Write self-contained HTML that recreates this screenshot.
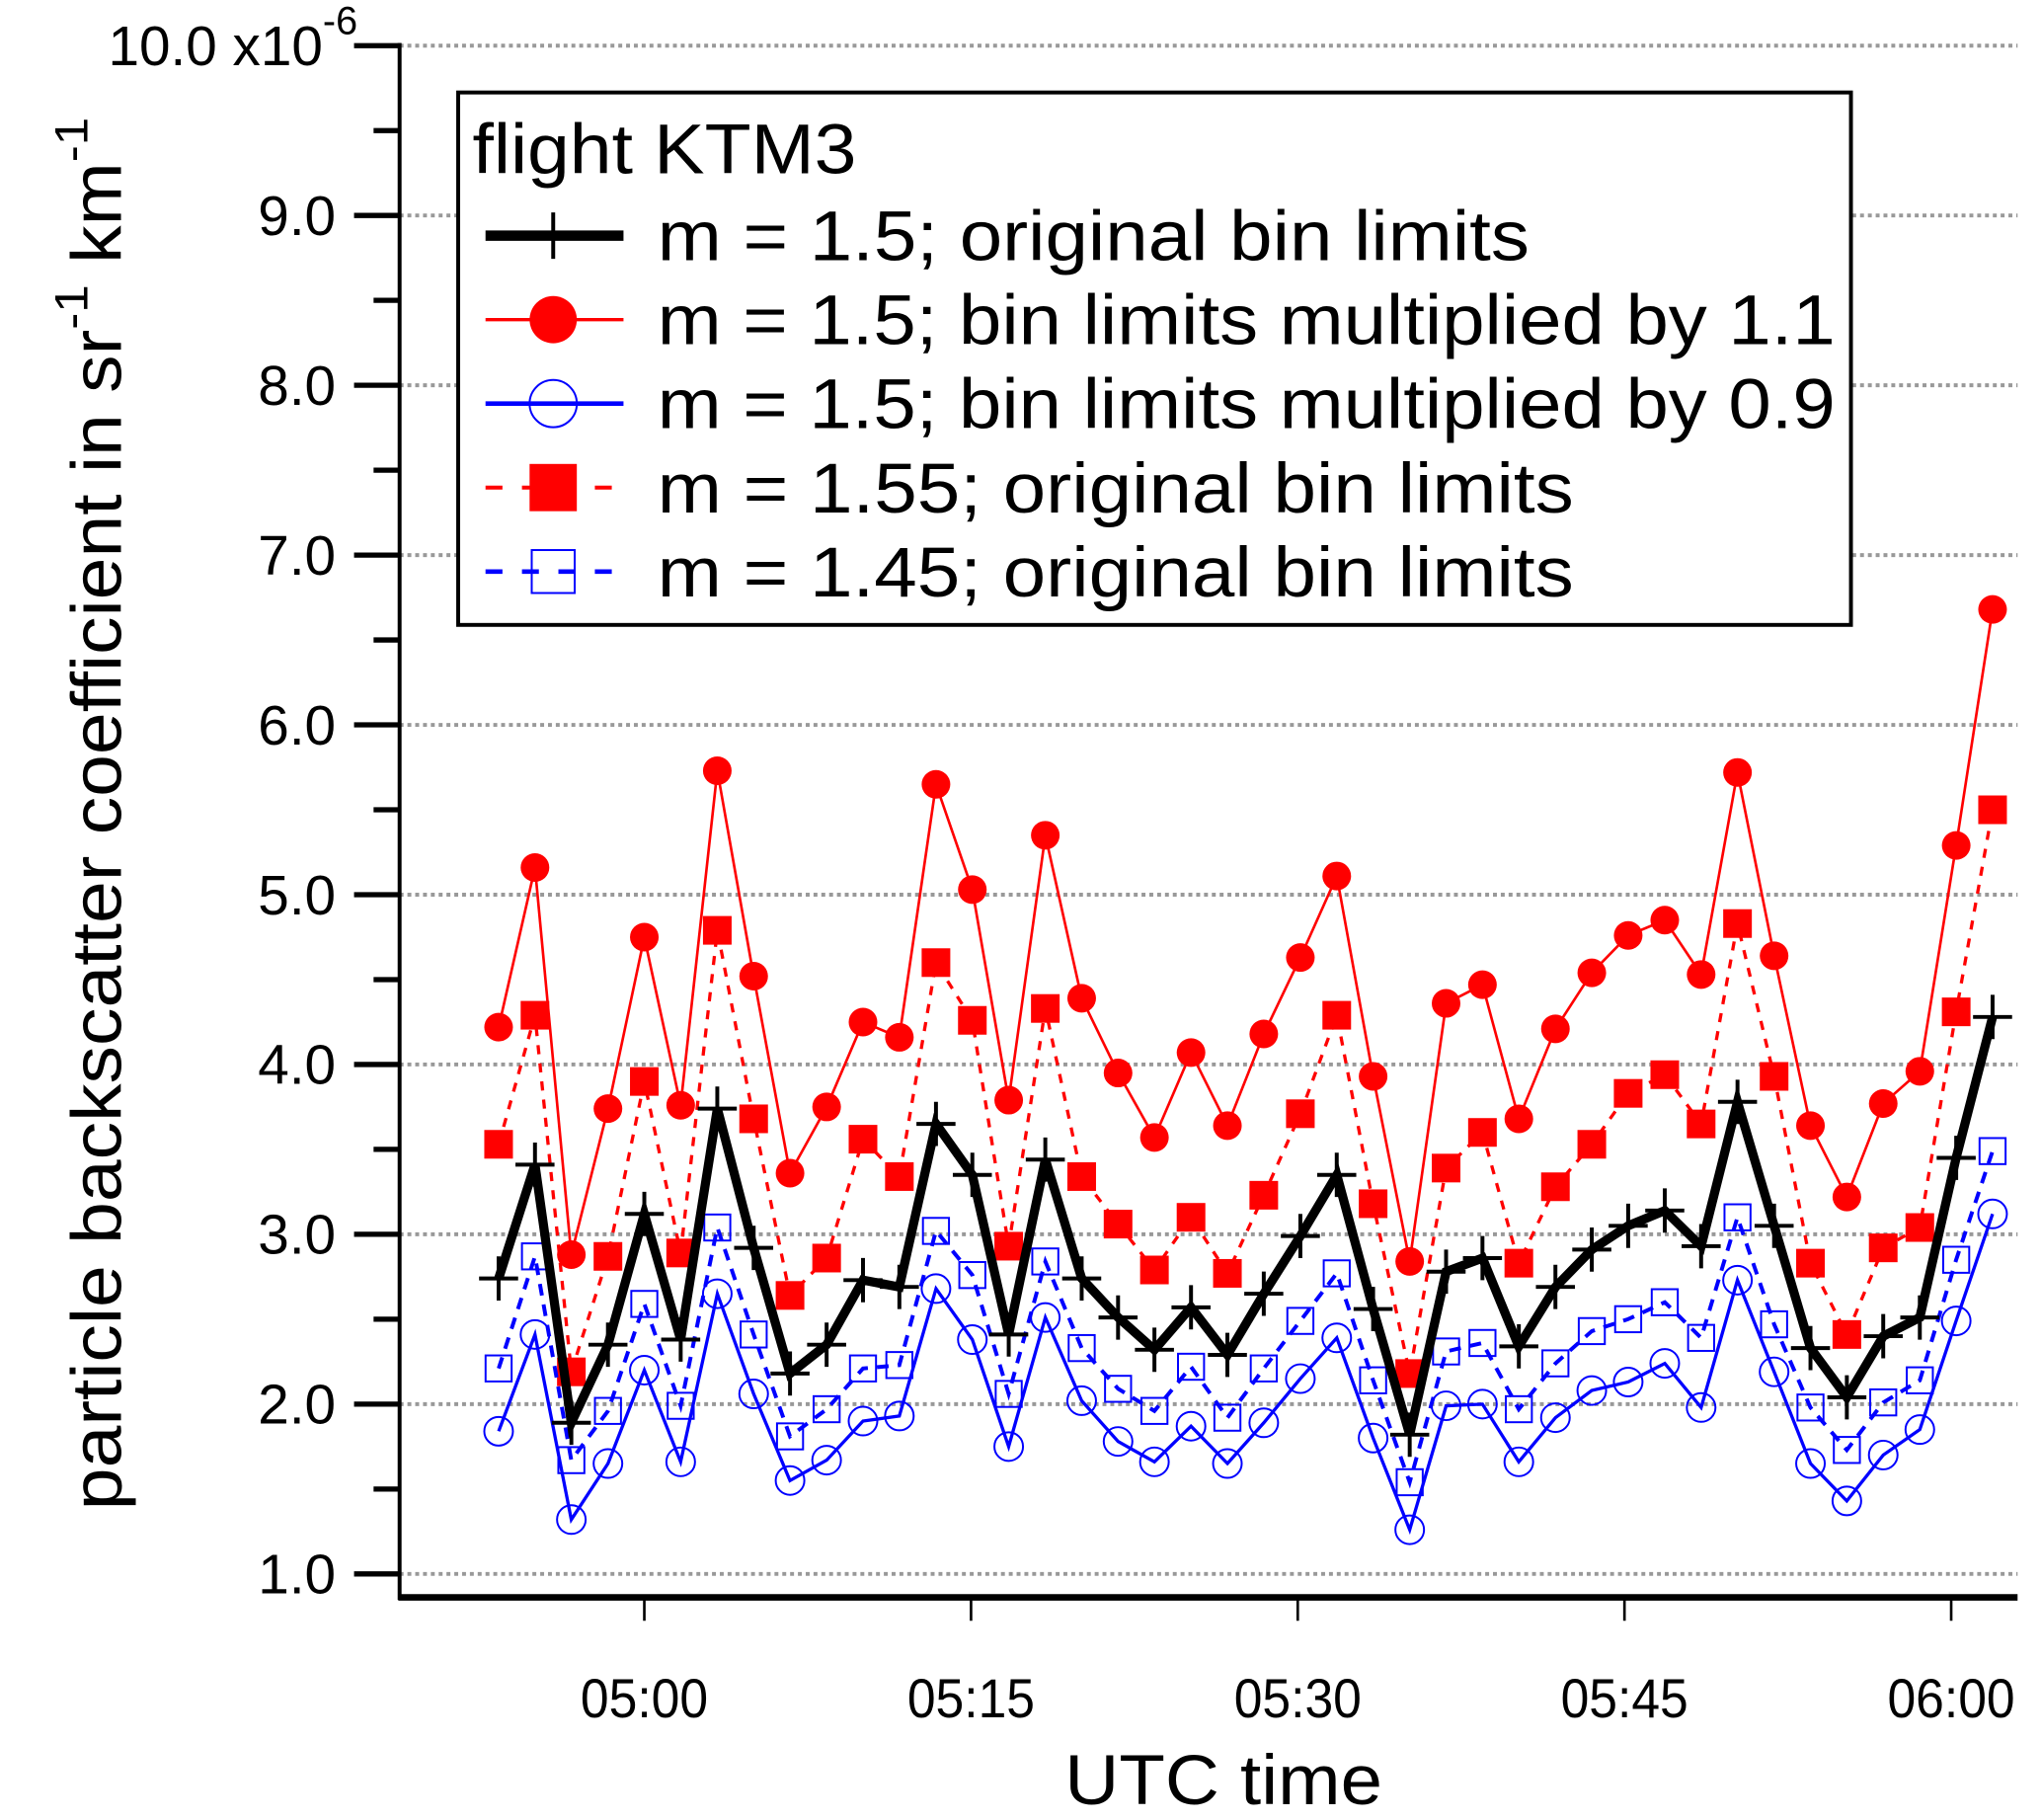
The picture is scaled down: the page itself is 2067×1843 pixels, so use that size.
<!DOCTYPE html>
<html><head><meta charset="utf-8"><style>html,body{margin:0;padding:0;background:#fff}svg{display:block}</style></head>
<body>
<svg id="chart" width="2067" height="1843" viewBox="0 0 1568 1398" xmlns="http://www.w3.org/2000/svg" font-family="Liberation Sans, Arial, sans-serif"></svg>
<script>
// minutes relative to 05:00 UTC
const times = [-6.69,-5.02,-3.35,-1.67,0.00,1.67,3.35,5.02,6.69,8.37,10.04,11.71,13.39,15.06,16.73,18.41,20.08,21.75,23.42,25.10,26.77,28.44,30.12,31.79,33.46,35.14,36.81,38.48,40.15,41.83,43.50,45.17,46.85,48.52,50.19,51.87,53.54,55.21,56.88,58.56,60.23,61.90];
const seriesOrig = [2.74,3.41,1.89,2.35,3.12,2.38,3.74,2.92,2.18,2.35,2.73,2.69,3.65,3.35,2.41,3.44,2.74,2.51,2.32,2.57,2.29,2.65,2.99,3.35,2.56,1.82,2.78,2.86,2.34,2.69,2.91,3.05,3.14,2.93,3.78,3.05,2.33,2.04,2.40,2.51,3.45,4.28];
const seriesMul11 = [4.22,5.16,2.88,3.74,4.75,3.76,5.73,4.52,3.36,3.75,4.25,4.16,5.65,5.03,3.79,5.35,4.39,3.95,3.57,4.07,3.64,4.18,4.63,5.11,3.93,2.84,4.36,4.47,3.68,4.21,4.54,4.76,4.85,4.53,5.72,4.64,3.64,3.22,3.77,3.96,5.29,6.68];
const seriesMul09 = [1.84,2.41,1.32,1.65,2.20,1.66,2.65,2.06,1.55,1.67,1.90,1.93,2.68,2.38,1.75,2.51,2.02,1.78,1.66,1.87,1.65,1.89,2.15,2.39,1.80,1.26,1.99,2.00,1.66,1.92,2.08,2.13,2.24,1.98,2.73,2.19,1.65,1.43,1.70,1.85,2.49,3.12];
const seriesM155 = [3.53,4.29,2.19,2.87,3.90,2.89,4.79,3.68,2.64,2.86,3.56,3.34,4.60,4.26,2.93,4.33,3.34,3.06,2.79,3.10,2.77,3.23,3.71,4.29,3.18,2.18,3.39,3.60,2.83,3.28,3.53,3.83,3.94,3.65,4.83,3.93,2.83,2.41,2.92,3.04,4.31,5.50];
const seriesM145 = [2.21,2.87,1.67,1.96,2.59,1.99,3.04,2.41,1.81,1.97,2.21,2.23,3.02,2.76,2.06,2.84,2.33,2.09,1.96,2.22,1.92,2.21,2.49,2.77,2.14,1.54,2.31,2.36,1.97,2.24,2.43,2.50,2.60,2.39,3.10,2.47,1.98,1.73,2.01,2.14,2.85,3.49];
const yTicks = [1,2,3,4,5,6,7,8,9,10];
const yTickLabels = ["1.0","2.0","3.0","4.0","5.0","6.0","7.0","8.0","9.0","10.0 x10"];
const xTicks = [0,15,30,45,60];
const xTickLabels = ["05:00","05:15","05:30","05:45","06:00"];

const svg = document.getElementById('chart');
const NS = 'http://www.w3.org/2000/svg';
const X0 = 307, X1 = 1550, YB = 1227;
const xs = m => 495 + m * (251/15);
const ys = v => 1209 - (v - 1) * 130.44;
function mk(tag, attrs, parent) {
  const e = document.createElementNS(NS, tag);
  for (const k in attrs) e.setAttribute(k, attrs[k]);
  (parent || svg).appendChild(e);
  return e;
}

yTicks.forEach(v => {
  const g = mk('line', {x1: X0, x2: X1, y1: ys(v), y2: ys(v), stroke: '#999', 'stroke-width': 3, 'stroke-dasharray': '3,3'});
  
  
});
yTicks.forEach((v, i) => {
  const t = mk('line', {x1: 272, x2: X0, y1: ys(v), y2: ys(v), stroke: '#000', 'stroke-width': 4});
  
  
  if (v < 10) {
    const m = mk('line', {x1: 287, x2: X0, y1: ys(v + 0.5), y2: ys(v + 0.5), stroke: '#000', 'stroke-width': 4});
    
    
  }
  const lb = mk('text', {x: v === 10 ? 248 : 258, y: ys(v) + 15, 'font-size': 43, 'text-anchor': 'end'});
  lb.textContent = yTickLabels[i];
  
  
});
const sup = mk('text', {x: 248, y: 26, 'font-size': 30, 'text-anchor': 'start'});
sup.textContent = '-6';


const ya = mk('line', {x1: X0, x2: X0, y1: 33, y2: YB + 2, stroke: '#000', 'stroke-width': 3});


const xa = mk('line', {x1: X0 - 1, x2: X1, y1: YB, y2: YB, stroke: '#000', 'stroke-width': 5});


xTicks.forEach((m, i) => {
  const t = mk('line', {x1: xs(m), x2: xs(m), y1: YB, y2: 1245, stroke: '#000', 'stroke-width': 2});
  
  
  const lb = mk('text', {x: xs(m), y: 1319, 'font-size': 42, 'text-anchor': 'middle', textLength: 98, lengthAdjust: 'spacingAndGlyphs'});
  lb.textContent = xTickLabels[i];
  
  
});
const xt = mk('text', {x: 940, y: 1386, 'font-size': 54, 'text-anchor': 'middle', textLength: 244, lengthAdjust: 'spacingAndGlyphs'});
xt.textContent = 'UTC time';


const yt = mk('text', {transform: 'translate(93,625) rotate(-90)', 'font-size': 54, 'text-anchor': 'middle', textLength: 1070, lengthAdjust: 'spacingAndGlyphs'});
yt.innerHTML = 'particle backscatter coefficient in sr<tspan dy="-26" font-size="36">-1</tspan><tspan dy="26">  km</tspan><tspan dy="-26" font-size="36">-1</tspan>';



function marker(type, x, y, color, parent, k) {
  k = k || 1;
  let e;
  if (type === 'plus') {
    e = mk('path', {d: `M${x-15*k},${y}H${x+15*k}M${x},${y-17*k}V${y+17*k}`, stroke: '#000', 'stroke-width': 3, fill: 'none'}, parent);
  } else if (type === 'dot') {
    e = mk('circle', {cx: x, cy: y, r: 11*k, fill: color}, parent);
  } else if (type === 'ring') {
    e = mk('circle', {cx: x, cy: y, r: 11*k, fill: 'none', stroke: color, 'stroke-width': 1.5}, parent);
  } else if (type === 'sq') {
    e = mk('rect', {x: x - 11*k, y: y - 11*k, width: 22*k, height: 22*k, fill: color}, parent);
  } else {
    e = mk('rect', {x: x - 10*k, y: y - 10*k, width: 20*k, height: 20*k, fill: 'none', stroke: color, 'stroke-width': 1.5}, parent);
  }
  return e;
}
const series = [
  {name: 'series-m155-original', data: seriesM155, color: '#f00', w: 2.5, dash: '7,7', mk: 'sq'},
  {name: 'series-m145-original', data: seriesM145, color: '#00f', w: 3, dash: '9,7', mk: 'osq'},
  {name: 'series-bins-x0.9', data: seriesMul09, color: '#00f', w: 2.5, dash: null, mk: 'ring'},
  {name: 'series-bins-x1.1', data: seriesMul11, color: '#f00', w: 2, dash: null, mk: 'dot'},
  {name: 'series-m15-original', data: seriesOrig, color: '#000', w: 7, dash: null, mk: 'plus'}
];
series.forEach(s => {
  const g = mk('g', {});
  
  
  const pts = s.data.map((v, i) => xs(times[i]).toFixed(1) + ',' + ys(v).toFixed(1)).join(' ');
  const a = {points: pts, fill: 'none', stroke: s.color, 'stroke-width': s.w, 'stroke-linejoin': 'miter'};
  if (s.dash) a['stroke-dasharray'] = s.dash;
  const pl = mk('polyline', a, g);
  
  
  s.data.forEach((v, i) => {
    const m = marker(s.mk, xs(times[i]), ys(v), s.color, g);
    
    
  });
});

const lg = mk('g', {});


const box = mk('rect', {x: 352, y: 71, width: 1070, height: 409, fill: '#fff', stroke: '#000', 'stroke-width': 3}, lg);


const lt = mk('text', {x: 363, y: 133, 'font-size': 54, textLength: 295, lengthAdjust: 'spacingAndGlyphs'}, lg);
lt.textContent = 'flight KTM3';


const entries = [
  {t: 'm = 1.5; original bin limits', c: '#000', w: 8, d: null, m: 'plus', L: 670},
  {t: 'm = 1.5; bin limits multiplied by 1.1', c: '#f00', w: 2.5, d: null, m: 'dot', L: 905},
  {t: 'm = 1.5; bin limits multiplied by 0.9', c: '#00f', w: 3.5, d: null, m: 'ring', L: 905},
  {t: 'm = 1.55; original bin limits', c: '#f00', w: 3, d: '13,15', m: 'sq', L: 704},
  {t: 'm = 1.45; original bin limits', c: '#00f', w: 3.5, d: '13,15', m: 'osq', L: 704}
];
entries.forEach((e, i) => {
  const y = 181 + i * 64.5;
  const g = mk('g', {}, lg);
  
  
  const a = {x1: 373, x2: 479, y1: y, y2: y, stroke: e.c, 'stroke-width': e.w};
  if (e.d) a['stroke-dasharray'] = e.d;
  mk('line', a, g);
  const mkr = marker(e.m, 425, y, e.c, g, e.m === 'plus' ? 1.05 : 1.65);
  
  
  const tx = mk('text', {x: 505, y: y + 19, 'font-size': 54, textLength: e.L, lengthAdjust: 'spacingAndGlyphs'}, g);
  tx.textContent = e.t;
  
  
});
</script>
</body></html>
